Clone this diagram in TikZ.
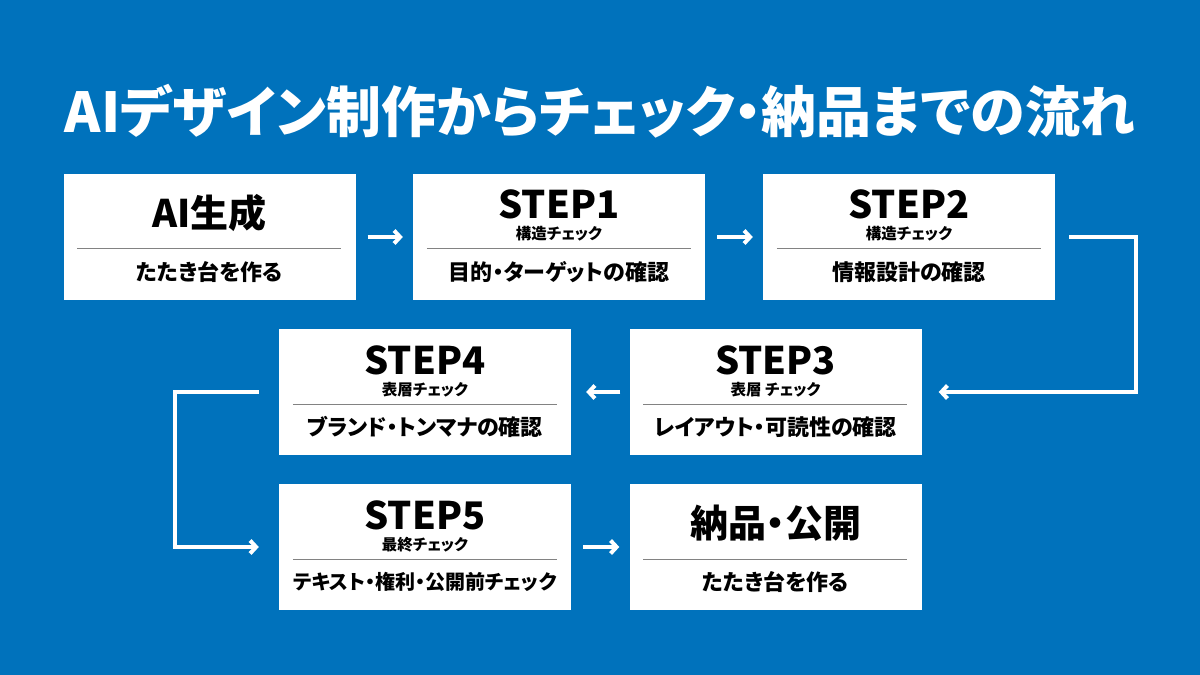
\documentclass[tikz,border=0pt]{standalone}
\usepackage{fontspec}
\usepackage{xcolor}
\usetikzlibrary{arrows.meta}
\newfontfamily\jp{Noto Sans CJK JP}[RawFeature=+palt]
\definecolor{bgblue}{RGB}{0,114,188}
\definecolor{rulegray}{RGB}{130,130,130}

\begin{document}
\begin{tikzpicture}[x=1pt,y=-1pt,
  card/.style={fill=white,minimum width=292pt,minimum height=126pt,inner sep=0pt},
  big/.style={font=\jp\bfseries\fontsize{38}{38}\selectfont},
  head/.style={font=\jp\bfseries\fontsize{38}{38}\selectfont},
  sub/.style={font=\jp\bfseries\fontsize{15.5}{15.5}\selectfont},
  body/.style={font=\jp\bfseries\fontsize{22}{22}\selectfont},
  rule/.style={rulegray,line width=1pt},
  flow/.style={white,line width=4pt,-{Straight Barb[length=6pt,width=13pt]}}]
\fill[bgblue] (0,0) rectangle (1200,675);
\node[white,font=\jp\bfseries\fontsize{55}{55}\selectfont] (title) at (600,111) {AIデザイン制作からチェック・納品までの流れ};

\node[card] (gen) at (209.5,237) {};
\node[card] (s1) at (559,237) {};
\node[card] (s2) at (909,237) {};
\node[card] (s3) at (775.5,392) {};
\node[card] (s4) at (425,392) {};
\node[card] (s5) at (425,547) {};
\node[card] (pub) at (775.5,547) {};

\path (gen.north) + (0,39) node[big] (gen-h) {AI生成} + (0,98) node[body] (gen-b) {たたき台を作る};
\path (s1.north) + (0,31) node[head] (s1-h) {STEP1} + (0,60) node[sub] (s1-s) {構造チェック} + (0,98) node[body] (s1-b) {目的・ターゲットの確認};
\path (s2.north) + (0,31) node[head] (s2-h) {STEP2} + (0,60) node[sub] (s2-s) {構造チェック} + (0,98) node[body] (s2-b) {情報設計の確認};
\path (s3.north) + (0,32) node[head] (s3-h) {STEP3} + (0,61) node[sub] (s3-s) {表層 チェック} + (0,98) node[body] (s3-b) {レイアウト・可読性の確認};
\path (s4.north) + (0,32) node[head] (s4-h) {STEP4} + (0,61) node[sub] (s4-s) {表層チェック} + (0,98) node[body] (s4-b) {ブランド・トンマナの確認};
\path (s5.north) + (0,32) node[head] (s5-h) {STEP5} + (0,61) node[sub] (s5-s) {最終チェック} + (0,98) node[body,font=\jp\bfseries\fontsize{20}{20}\selectfont] (s5-b) {テキスト・権利・公開前チェック};
\path (pub.north) + (0,39) node[big] (pub-h) {納品・公開} + (0,98) node[body] (pub-b) {たたき台を作る};

\draw[rule] (gen.north west) + (14,75) -- + (278,75);
\draw[rule] (s1.north west) + (14,75) -- + (278,75);
\draw[rule] (s2.north west) + (14,75) -- + (278,75);
\draw[rule] (s3.north west) + (14,76) -- + (278,76);
\draw[rule] (s4.north west) + (14,76) -- + (278,76);
\draw[rule] (s5.north west) + (14,76) -- + (278,76);
\draw[rule] (pub.north west) + (14,76) -- + (278,76);

\coordinate (turnR) at (1136,0);
\coordinate (turnL) at (175,0);
\draw[flow,shorten <=12pt,shorten >=10pt] (gen) -- (s1);
\draw[flow,shorten <=12pt,shorten >=10pt] (s1) -- (s2);
\draw[flow,shorten <=14pt,shorten >=17pt] (s2.east) -- (s2.east -| turnR) -- (s3.east -| turnR) -- (s3.east);
\draw[flow,shorten <=9pt,shorten >=15pt] (s3) -- (s4);
\draw[flow,shorten <=20pt,shorten >=20pt] (s4.west) -- (s4.west -| turnL) -- (s5.west -| turnL) -- (s5.west);
\draw[flow,shorten <=12pt,shorten >=10pt] (s5) -- (pub);
\end{tikzpicture}
\end{document}
